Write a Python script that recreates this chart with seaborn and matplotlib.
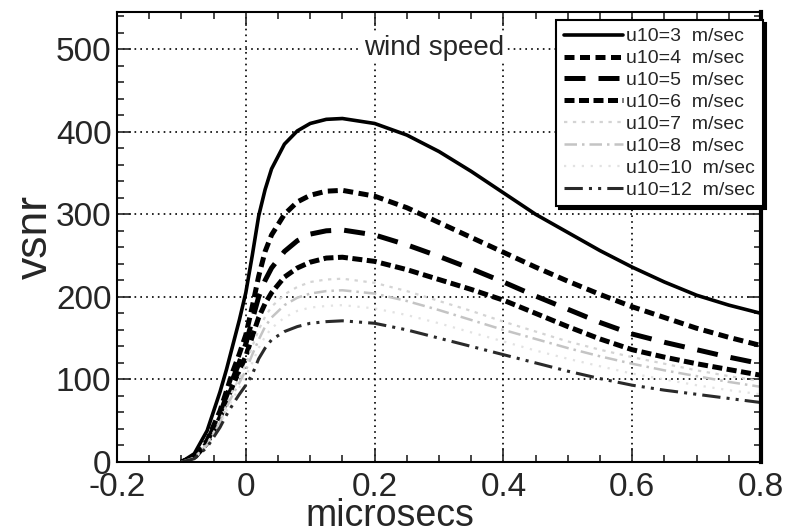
import numpy as np
import matplotlib
matplotlib.use("Agg")
import matplotlib.pyplot as plt
from matplotlib.ticker import MultipleLocator
import seaborn as sns

# time axis (microsecs) shared by all curves
t = [-0.1, -0.08, -0.06, -0.04, -0.03, -0.02, -0.01, 0, 0.01, 0.02, 0.03, 0.04, 0.06, 0.08, 0.1,
     0.125, 0.15, 0.2, 0.25, 0.3, 0.35, 0.4, 0.45, 0.5, 0.55, 0.6, 0.65, 0.7, 0.75, 0.8]

# vsnr for each wind speed
u3 = [0, 10, 38, 85, 112, 142, 172, 205, 250, 298, 330, 355, 385, 401, 410, 415, 416, 410, 396, 376,
      352, 326, 300, 278, 256, 236, 218, 202, 190, 180]
u4 = [0, 6, 26, 62, 86, 110, 131, 154, 188, 225, 255, 275, 300, 315, 323, 328, 329, 322, 308, 290,
      272, 254, 236, 219, 203, 188, 175, 162, 151, 141]
u5 = [0, 6, 25, 58, 80, 101, 121, 143, 172, 200, 220, 235, 255, 268, 276, 280, 281, 275, 263, 249,
      234, 218, 201, 185, 169, 155, 145, 136, 127, 119]
u6 = [0, 5, 23, 54, 74, 93, 111, 128, 152, 175, 192, 205, 224, 235, 242, 247, 248, 243, 233, 221,
      209, 196, 180, 164, 149, 136, 127, 119, 112, 105]
u7 = [0, 5, 22, 50, 69, 87, 102, 118, 140, 160, 176, 188, 203, 212, 218, 221, 222, 217, 207, 195,
      183, 170, 158, 146, 136, 127, 119, 111, 104, 98]
u8 = [0, 5, 21, 48, 66, 82, 96, 111, 130, 148, 164, 175, 190, 199, 204, 207, 208, 204, 195, 184,
      172, 160, 149, 138, 128, 119, 111, 104, 97, 91]
u10 = [0, 4, 20, 45, 62, 77, 90, 104, 120, 138, 152, 162, 175, 183, 187, 189, 190, 186, 178, 168,
       157, 146, 135, 125, 116, 107, 100, 93, 87, 82]
u12 = [0, 4, 18, 42, 57, 70, 82, 93, 106, 125, 138, 148, 158, 164, 168, 170, 171, 168, 160, 150,
       140, 130, 120, 110, 101, 93, 87, 82, 77, 72]

labels = ["u10=3  m/sec", "u10=4  m/sec", "u10=5  m/sec", "u10=6  m/sec",
          "u10=7  m/sec", "u10=8  m/sec", "u10=10  m/sec", "u10=12  m/sec"]

sns.set_style("ticks")
plt.rcParams['font.family'] = ['Liberation Sans', 'DejaVu Sans']

fig = plt.figure(figsize=(8.09, 5.32), dpi=100)
ax = fig.add_axes([117 / 809, 70 / 532, 644 / 809, 450 / 532])

styles = [
    dict(color="black", lw=2.6, linestyle="-"),
    dict(color="black", lw=3.6, linestyle=(0, (2.0, 1.1))),
    dict(color="black", lw=3.6, linestyle=(0, (4.2, 2.6))),
    dict(color="black", lw=3.6, linestyle=(0, (2.0, 0.9))),
    dict(color="#d4d4d4", lw=1.6, linestyle=(0, (1.5, 2.5))),
    dict(color="#c4c4c4", lw=1.8, linestyle=(0, (5, 2, 1, 2))),
    dict(color="#e2e2e2", lw=1.6, linestyle=(0, (1, 3))),
    dict(color="#2a2a2a", lw=2.2, linestyle=(0, (6, 2, 1, 2, 1, 2))),
]
series = [u3, u4, u5, u6, u7, u8, u10, u12]
for y, lab, st in zip(series, labels, styles):
    sns.lineplot(x=t, y=y, ax=ax, label=lab, **st)

ax.set_xlim(-0.2, 0.8)
ax.set_ylim(0, 545)
ax.xaxis.set_major_locator(MultipleLocator(0.2))
ax.xaxis.set_minor_locator(MultipleLocator(0.05))
ax.yaxis.set_major_locator(MultipleLocator(100))
ax.yaxis.set_minor_locator(MultipleLocator(20))
ax.set_xticks([-0.2, 0, 0.2, 0.4, 0.6, 0.8])
ax.set_xticklabels(["-0.2", "0", "0.2", "0.4", "0.6", "0.8"])
ax.tick_params(which="both", direction="in", top=True, right=True, labelsize=24, width=1.2)
ax.tick_params(which="major", length=10, pad=4)
ax.tick_params(which="minor", length=5)
ax.tick_params(axis="x", which="major", pad=7)

# dotted grid inside the box only
for gx in [0, 0.2, 0.4, 0.6]:
    ax.axvline(gx, color="black", lw=1.2, linestyle=(0, (1, 2.5)), zorder=0)
for gy in [100, 200, 300, 400, 500]:
    ax.axhline(gy, color="black", lw=1.2, linestyle=(0, (1, 2.5)), zorder=0)

for s in ax.spines.values():
    s.set_linewidth(1.5)
    s.set_color("black")
ax.spines["right"].set_linewidth(3)

ax.text(0.292, 502, "wind speed", ha="center", va="center", fontsize=20, zorder=3,
        bbox=dict(facecolor="white", edgecolor="none", pad=1))

ax.set_xlabel("")
ax.set_ylabel("")
ax.text((390 - 117) / 644, (462 - 526) / 450, "microsecs", transform=ax.transAxes,
        ha="center", va="baseline", fontsize=27)
ax.text((35 - 117) / 644, 0.5, "vsnr", transform=ax.transAxes, rotation=90,
        ha="center", va="center", fontsize=32)

leg = ax.legend(loc="upper right", bbox_to_anchor=(1.003, 0.982), borderaxespad=0,
                fontsize=14, frameon=True, fancybox=False, framealpha=1, edgecolor="black",
                handlelength=3.0, handletextpad=0.2, labelspacing=0.22, borderpad=0.4,
                shadow={"color": "black", "alpha": 1})
leg.get_frame().set_linewidth(1.5)
leg.set_zorder(5)

fig.savefig("out.png", dpi=100)
